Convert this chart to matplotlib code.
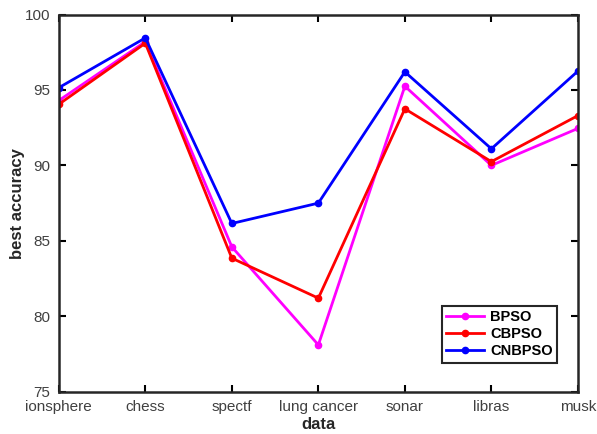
import matplotlib
matplotlib.use("Agg")
import matplotlib.pyplot as plt

categories = ["ionsphere", "chess", "spectf", "lung cancer", "sonar", "libras", "musk"]
bpso = [94.3, 98.2, 84.6, 78.1, 95.25, 90.0, 92.45]
cbpso = [94.05, 98.1, 83.85, 81.2, 93.75, 90.25, 93.3]
cnbpso = [95.15, 98.45, 86.15, 87.5, 96.2, 91.1, 96.25]
yticks = [75, 80, 85, 90, 95, 100]

plt.rcParams['font.family'] = ['Liberation Sans', 'DejaVu Sans']

fig = plt.figure(figsize=(5.97, 4.34), dpi=100)
ax = fig.add_axes([0.0985, 0.0975, 0.8695, 0.869])

x = list(range(len(categories)))
ax.plot(x, bpso, color='#ff00ff', marker='o', markersize=4.5, linewidth=2, label='BPSO')
ax.plot(x, cbpso, color='#ff0000', marker='o', markersize=4.5, linewidth=2, label='CBPSO')
ax.plot(x, cnbpso, color='#0000ff', marker='o', markersize=4.5, linewidth=2, label='CNBPSO')

ax.set_xlim(0, len(categories) - 1)
ax.set_ylim(75, 100)
ax.set_xticks(x)
ax.set_xticklabels(categories, fontsize=11, color='#404040')
ax.set_yticks(yticks)
ax.set_yticklabels([str(v) for v in yticks], fontsize=11, color='#404040')
ax.tick_params(direction='in', length=5, width=1.5, top=True, right=True, pad=6)
for s in ax.spines.values():
    s.set_linewidth(1.8)
    s.set_color('#262626')

ax.set_xlabel('data', fontsize=12, fontweight='bold', color='#262626', labelpad=2)
ax.set_ylabel('best accuracy', fontsize=12, fontweight='bold', color='#262626', labelpad=0)

leg = ax.legend(loc='lower right', bbox_to_anchor=(0.96, 0.077), borderaxespad=0,
                fancybox=False, edgecolor='#262626', framealpha=1, borderpad=0.3,
                handlelength=2.6, labelspacing=0.2, handletextpad=0.4,
                prop={'weight': 'bold', 'size': 10.5})
leg.get_frame().set_linewidth(1.5)

fig.savefig('out.png', dpi=100)
